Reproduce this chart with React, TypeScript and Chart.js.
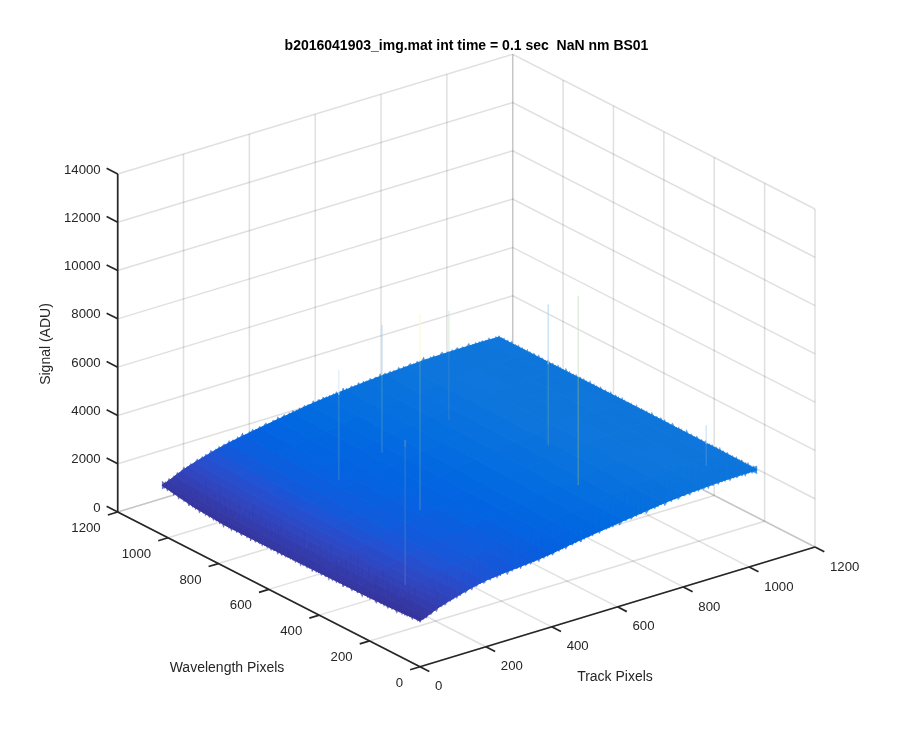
import React, { useEffect, useRef } from "react";
import { Chart, registerables } from "chart.js";

Chart.register(...registerables);

const titleText = "b2016041903_img.mat int time = 0.1 sec  NaN nm BS01";
const trackLabel = "Track Pixels";
const waveLabel = "Wavelength Pixels";
const signalLabel = "Signal (ADU)";

const trackTicks = [0, 200, 400, 600, 800, 1000, 1200];
const waveTicks = [0, 200, 400, 600, 800, 1000, 1200];
const signalTicks = [0, 2000, 4000, 6000, 8000, 10000, 12000, 14000];

const tracks = [0, 10, 20, 40, 60, 80, 100, 130, 160, 200, 250, 300, 350, 400, 450, 500, 560, 620, 680, 740, 800, 860, 920, 980, 1024];
const waves = [0, 128, 256, 384, 512, 640, 768, 896, 1024];

const signalW0 = [1900, 1950, 2000, 2130, 2240, 2330, 2410, 2530, 2640, 2750, 2830, 2890, 2950, 3040, 3160, 3270, 3390, 3500, 3610, 3720, 3800, 3860, 3900, 3920, 3920];
const signalW128 = [1820, 1880, 1940, 2080, 2200, 2300, 2390, 2510, 2630, 2750, 2840, 2910, 2980, 3070, 3190, 3300, 3420, 3540, 3650, 3760, 3850, 3910, 3950, 3960, 3940];
const signalW256 = [1790, 1850, 1920, 2060, 2190, 2290, 2380, 2510, 2640, 2760, 2860, 2930, 3010, 3110, 3230, 3340, 3460, 3580, 3690, 3800, 3890, 3950, 3990, 3990, 3950];
const signalW384 = [1770, 1840, 1910, 2060, 2190, 2300, 2390, 2520, 2650, 2780, 2880, 2960, 3050, 3150, 3270, 3380, 3500, 3620, 3730, 3830, 3920, 3980, 4010, 4000, 3960];
const signalW512 = [1750, 1830, 1900, 2060, 2200, 2310, 2400, 2540, 2670, 2800, 2900, 2990, 3080, 3190, 3310, 3420, 3540, 3650, 3760, 3860, 3940, 4000, 4020, 4010, 3960];
const signalW640 = [1740, 1820, 1900, 2070, 2210, 2320, 2420, 2560, 2690, 2820, 2930, 3020, 3120, 3230, 3350, 3450, 3570, 3680, 3780, 3870, 3950, 4000, 4020, 4000, 3960];
const signalW768 = [1730, 1830, 1920, 2090, 2240, 2350, 2450, 2590, 2720, 2850, 2970, 3070, 3170, 3280, 3390, 3490, 3600, 3700, 3790, 3880, 3950, 3990, 4010, 3990, 3950];
const signalW896 = [1820, 1900, 1980, 2140, 2290, 2400, 2500, 2640, 2770, 2900, 3020, 3130, 3230, 3340, 3450, 3540, 3640, 3730, 3810, 3880, 3940, 3970, 3990, 3980, 3950];
const signalW1024 = [2050, 2090, 2140, 2270, 2390, 2490, 2580, 2700, 2820, 2950, 3080, 3200, 3310, 3420, 3530, 3610, 3690, 3770, 3830, 3880, 3930, 3950, 3960, 3960, 3950];
const signalRows = [signalW0, signalW128, signalW256, signalW384, signalW512, signalW640, signalW768, signalW896, signalW1024];

// How much brighter each wavelength row reads in colour than its outline height suggests.
const rowColorLift = [0, 90, 170, 220, 240, 240, 200, 110, 0];

// Pixel-to-pixel noise seen along the surface's outline, in ADU above the local level.
const edgeNoiseA = [40, -30, 70, -10, 110, 20, -40, 60, -20, 90, 10, -50, 30, 120, -10, 50, -30, 80, 0, -60, 45, 100, -25, 15, 65, -45, 85, 5, -15, 130, 25, -35, 55, -5, 95, -55, 35, 75, -20, 10, 105, -40, 60, 20, -30, 90, -10, 50, 140, -25, 30, -50, 70, 5, 115, -15, 40, -35, 85, 15, -45, 65, 100, -5, 25, -60, 75, 35, -20, 125, 10, -30, 55, 90, -40, 20, 70, -10, 110, -25, 45, 0, 80, -50, 30, 95, -15, 60, 5, -35, 120, 25, -20, 75, 40, -45, 85, 15, 50, -30, 65];
const edgeNoiseB = [-20, 60, 10, 95, -35, 50, 5, 125, -15, 70, -45, 30, 85, -5, 55, -30, 110, 20, -40, 75, 0, 45, -25, 100, 15, -55, 65, 35, -10, 135, -30, 40, 80, -20, 25, 90, -45, 60, 5, -15, 115, 30, -35, 70, 10, -25, 50, 105, -5, 35, -50, 85, 20, -30, 60, 145, -15, 45, -40, 75, 0, 95, -20, 30, -55, 65, 120, 10, -35, 50, 25, -10, 85, -45, 40, 100, 5, -25, 70, 15, -30, 55, 130, -20, 35, -5, 90, -40, 60, 20, 75, -35, 45, 10, 110, -15, 30, -25, 80, 0, 55];

// Columns that stand out of the surface.
const spikeTrack = [254, 437, 323, 658, 746, 655, 71, 962];
const spikeWave = [654, 722, 422, 745, 466, 228, 152, 121];
const spikeBase = [3200, 3200, 2900, 3500, 3600, 3600, 2280, 3700];
const spikeMid = [6720, 6555, 9100, 6400, 6955, 8115, 8000, 4611];
const spikeTop = [7750, 8490, 11020, 8040, 9440, 11430, 8280, 5385];
const spikeLowColors = ["rgba(110,170,190,0.45)", "rgba(110,175,170,0.5)", "rgba(120,170,160,0.55)", "rgba(90,150,200,0.45)", "rgba(120,170,160,0.5)", "rgba(150,180,120,0.6)", "rgba(110,140,190,0.5)", "rgba(110,170,220,0.45)"];
const spikeHighColors = ["#d6e8f8", "#b4d6f1", "#fdf8cc", "#d6ebd8", "#b4d6f1", "#d4e6cc", "#6c8fc4", "#c2ddf4"];

const parulaStart = [
  [53, 42, 135], [54, 48, 147], [54, 55, 160], [53, 61, 173], [50, 67, 186], [44, 74, 199], [32, 83, 212], [15, 92, 221],
  [3, 99, 225], [2, 104, 225], [4, 109, 224], [8, 113, 222], [13, 117, 220], [16, 120, 218], [18, 124, 216], [20, 128, 214],
];

const gridColor = "rgba(38,38,38,0.14)";
const axisColor = "#262626";
const textColor = "#262626";
const FONT = '"Liberation Sans", Arial, sans-serif';

type Pt = { x: number; y: number };

function project(t: number, w: number, z: number): Pt {
  return {
    x: 420 + t * (395 / 1200) - w * (302.3 / 1200),
    y: 666.7 - t * (119.7 / 1200) - w * (154.7 / 1200) - z * (338 / 14000),
  };
}

function colorFor(z: number): string {
  const f = Math.max(0, Math.min(parulaStart.length - 1.001, (z - 1600) / 193));
  const i = Math.floor(f);
  const d = f - i;
  const c = parulaStart[i].map((v, k) => Math.round(v + (parulaStart[i + 1][k] - v) * d));
  return `rgb(${c[0]},${c[1]},${c[2]})`;
}

const withAlpha = (c: string, a: number) => c.replace("rgb(", "rgba(").replace(")", `,${a})`);

function surfaceAt(t: number, w: number): number {
  let i = 0;
  while (i < tracks.length - 2 && tracks[i + 1] < t) i++;
  let j = 0;
  while (j < waves.length - 2 && waves[j + 1] < w) j++;
  const a = (t - tracks[i]) / (tracks[i + 1] - tracks[i]);
  const b = (w - waves[j]) / (waves[j + 1] - waves[j]);
  const top = signalRows[j][i] * (1 - a) + signalRows[j][i + 1] * a;
  const bot = signalRows[j + 1][i] * (1 - a) + signalRows[j + 1][i + 1] * a;
  return top * (1 - b) + bot * b;
}

function liftAt(w: number): number {
  const j = Math.min(waves.length - 2, Math.floor(w / 128));
  const b = (w - waves[j]) / 128;
  return rowColorLift[j] * (1 - b) + rowColorLift[j + 1] * b;
}

function lineSet(data: Pt[], color: string, width: number, extra: object = {}) {
  return {
    type: "scatter" as const,
    data,
    showLine: true,
    borderColor: color,
    backgroundColor: color,
    borderWidth: width,
    pointRadius: 0,
    tension: 0,
    fill: false,
    ...extra,
  };
}

function buildDatasets() {
  const sets: any[] = [];
  const tMax = trackTicks[trackTicks.length - 1];
  const wMax = waveTicks[waveTicks.length - 1];
  const zMax = signalTicks[signalTicks.length - 1];
  const GW = 1.5;
  const AW = 1.7;

  trackTicks.forEach((t) => {
    sets.push(lineSet([project(t, 0, 0), project(t, wMax, 0)], gridColor, GW));
    sets.push(lineSet([project(t, wMax, 0), project(t, wMax, zMax)], gridColor, GW));
  });
  waveTicks.forEach((w) => {
    sets.push(lineSet([project(0, w, 0), project(tMax, w, 0)], gridColor, GW));
    sets.push(lineSet([project(tMax, w, 0), project(tMax, w, zMax)], gridColor, GW));
  });
  signalTicks.forEach((z) => {
    sets.push(lineSet([project(0, wMax, z), project(tMax, wMax, z), project(tMax, 0, z)], gridColor, GW));
  });

  // Noisy outline: drawn first so that the surface covers its inner half.
  const edge = (noise: number[], f: (u: number) => [number, number], sign: number) => {
    const step = 12;
    for (let s = 0; s < noise.length - 1; s += step) {
      const top: Pt[] = [];
      const inner: Pt[] = [];
      const last = Math.min(noise.length - 1, s + step);
      for (let k = s; k <= last; k++) {
        const [t, w] = f((k / (noise.length - 1)) * 1024);
        const z = surfaceAt(t, w);
        top.push(project(t, w, z + sign * noise[k]));
        inner.push(project(t, w, z - sign * 170));
      }
      const [tc, wc] = f((((s + last) / 2) / (noise.length - 1)) * 1024);
      const c = colorFor(surfaceAt(tc, wc) + liftAt(wc));
      const poly = [...top, ...inner.reverse()];
      poly.push(poly[0]);
      sets.push(lineSet(poly, withAlpha(c, 0.25), 0.6, { fill: "shape", backgroundColor: withAlpha(c, 0.7) }));
    }
  };
  const ab = [...edgeNoiseA, ...edgeNoiseB];
  const ba = [...edgeNoiseB, ...edgeNoiseA];
  edge(ab, (u) => [u, 1024], 1);
  edge(ba, (u) => [1024, u], 1);
  edge(ab.slice().reverse(), (u) => [0, u], -1);
  edge(ba.slice().reverse(), (u) => [u, 0], -1);

  for (let j = 0; j < waves.length - 1; j++) {
    for (let i = 0; i < tracks.length - 1; i++) {
      const z00 = signalRows[j][i];
      const z01 = signalRows[j][i + 1];
      const z10 = signalRows[j + 1][i];
      const z11 = signalRows[j + 1][i + 1];
      const fade = Math.max(0, 1 - tracks[i] / 400);
      const lift = ((rowColorLift[j] + rowColorLift[j + 1]) / 2) * fade;
      const c = colorFor((z00 + z01 + z10 + z11) / 4 + lift);
      const poly = [
        project(tracks[i], waves[j], z00),
        project(tracks[i + 1], waves[j], z01),
        project(tracks[i + 1], waves[j + 1], z11),
        project(tracks[i], waves[j + 1], z10),
        project(tracks[i], waves[j], z00),
      ];
      sets.push(lineSet(poly, c, 1, { fill: "shape" }));
    }
  }

  // Fine vertical streaks of the pixel noise, rising from the two front edges.
  const streaks = (noise: number[], f: (u: number) => [number, number], lifted: boolean) => {
    noise.forEach((n, k) => {
      const u = (k / (noise.length - 1)) * 1024;
      const [t, w] = f(u);
      const z = surfaceAt(t, w);
      const rise = Math.min(400 + Math.abs(n) * 8, 8 * (1024 - u));
      if (rise < 40) return;
      const c = colorFor(z + 40 + n + (lifted ? liftAt(w) : 0));
      sets.push(lineSet([project(t, w, z), project(t, w, z + rise)], withAlpha(c, 0.4), 1));
    });
  };
  streaks(ab, (u) => [0, u], true);
  streaks(ba, (u) => [u, 0], false);

  spikeTrack.forEach((t, k) => {
    const w = spikeWave[k];
    sets.push(lineSet([project(t, w, spikeBase[k]), project(t, w, spikeMid[k])], spikeLowColors[k], 1));
    sets.push(lineSet([project(t, w, spikeMid[k]), project(t, w, spikeTop[k])], spikeHighColors[k], 1));
  });

  sets.push(lineSet([project(0, wMax, 0), project(0, wMax, zMax)], axisColor, AW));
  sets.push(lineSet([project(0, 0, 0), project(tMax, 0, 0)], axisColor, AW));
  sets.push(lineSet([project(0, 0, 0), project(0, wMax, 0)], axisColor, AW));
  signalTicks.forEach((z) => {
    sets.push(lineSet([project(0, wMax, z), project(0, wMax + 44, z)], axisColor, AW));
  });
  trackTicks.forEach((t) => {
    sets.push(lineSet([project(t, 0, 0), project(t, -37, 0)], axisColor, AW));
  });
  waveTicks.forEach((w) => {
    sets.push(lineSet([project(0, w, 0), project(-30, w, 0)], axisColor, AW));
  });
  // Chart.js paints the first dataset last, so the list is handed over back to front.
  return sets.reverse();
}

const textPlugin = {
  id: "axisText",
  afterDatasetsDraw(chart: any) {
    const { ctx, scales } = chart;
    const sx = (v: number) => scales.x.getPixelForValue(v);
    const sy = (v: number) => scales.y.getPixelForValue(v);
    const wMax = waveTicks[waveTicks.length - 1];
    ctx.save();
    ctx.fillStyle = textColor;
    ctx.textBaseline = "middle";
    ctx.font = `13.2px ${FONT}`;

    ctx.textAlign = "right";
    signalTicks.forEach((z) => {
      const p = project(0, wMax, z);
      ctx.fillText(String(z), sx(p.x - 17), sy(p.y - 4));
    });
    waveTicks.forEach((w) => {
      const p = project(0, w, 0);
      ctx.fillText(String(w), sx(p.x - 17), sy(p.y + 16.5));
    });
    ctx.textAlign = "left";
    trackTicks.forEach((t) => {
      const p = project(t, 0, 0);
      ctx.fillText(String(t), sx(p.x + 15), sy(p.y + 20));
    });

    ctx.textAlign = "center";
    ctx.font = `14px ${FONT}`;
    ctx.fillText(waveLabel, sx(227), sy(668));
    ctx.fillText(trackLabel, sx(615), sy(677));
    ctx.save();
    ctx.translate(sx(46), sy(344));
    ctx.rotate(-Math.PI / 2);
    ctx.fillText(signalLabel, 0, 0);
    ctx.restore();

    ctx.fillStyle = "#000000";
    ctx.font = `bold 14px ${FONT}`;
    ctx.fillText(titleText, sx(466.5), sy(46));
    ctx.restore();
  },
};

export default function App() {
  const ref = useRef<HTMLCanvasElement>(null);
  useEffect(() => {
    if (!ref.current) return;
    const chart = new Chart(ref.current, {
      type: "scatter",
      data: { datasets: buildDatasets() },
      options: {
        animation: false,
        responsive: false,
        devicePixelRatio: 1,
        layout: { padding: 0 },
        plugins: { legend: { display: false }, tooltip: { enabled: false }, title: { display: false } },
        scales: {
          x: { type: "linear", min: 0, max: 900, display: false },
          y: { type: "linear", min: 0, max: 750, reverse: true, display: false },
        },
      },
      plugins: [textPlugin],
    } as any);
    return () => chart.destroy();
  }, []);
  return (
    <canvas
      ref={ref}
      width={900}
      height={750}
      style={{ position: "absolute", left: 0, top: 0, width: 900, height: 750, background: "#fff" }}
    />
  );
}
